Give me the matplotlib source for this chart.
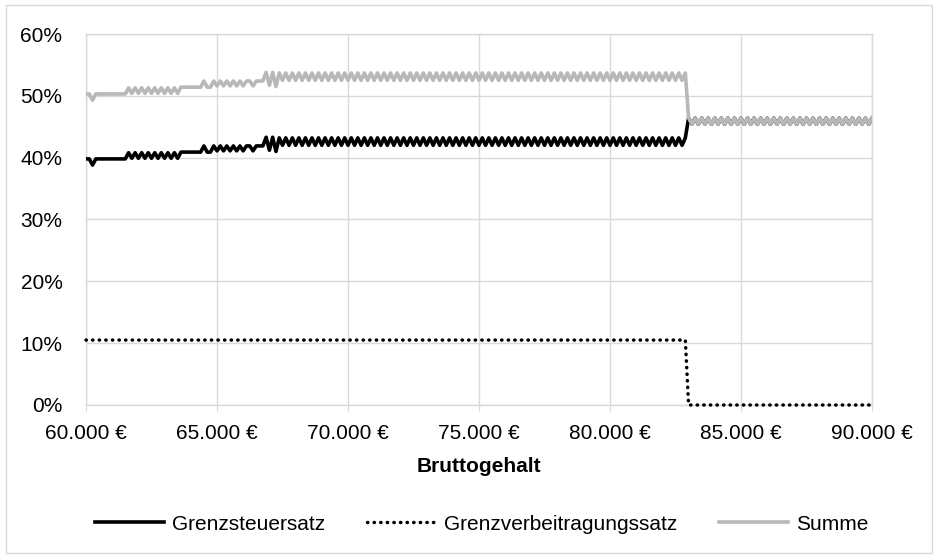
import numpy as np
import matplotlib
matplotlib.use("Agg")
import matplotlib.pyplot as plt
from matplotlib.ticker import FuncFormatter, MultipleLocator
from matplotlib.patches import Rectangle

plt.rcParams['font.family'] = ['Liberation Sans', 'DejaVu Sans']

# Bruttogehalt grid (EUR), step 125
gehalt = np.arange(60000, 90001, 125)

# Grenzsteuersatz (%), 60.000 - 67.250 EUR
steuer_a = [39.8, 39.8, 38.8,
            39.8, 39.8, 39.8, 39.8, 39.8, 39.8, 39.8, 39.8, 39.8, 39.8,
            40.8, 39.9, 40.8, 39.9, 40.8, 39.9, 40.8, 39.9,
            40.8, 39.9, 40.8, 39.9, 40.8, 39.9, 40.8, 39.9,
            40.9, 40.9, 40.9, 40.9, 40.9, 40.9, 40.9, 41.9, 40.9, 40.9,
            41.9, 41.1, 41.9, 41.1, 41.9, 41.1, 41.9, 41.1, 41.9, 41.1,
            41.9, 41.9, 41.1, 41.9, 41.9, 41.9,
            43.3, 41.2, 43.3, 41.0]
# Grenzsteuersatz (%), 67.375 - 82.875 EUR
steuer_b = [43.2, 42.0, 43.2, 42.0, 43.2, 42.0, 43.2, 42.0, 43.2, 42.0,
            43.2, 42.0, 43.2, 42.0, 43.2, 42.0, 43.2, 42.0, 43.2, 42.0,
            43.2, 42.0, 43.2, 42.0, 43.2, 42.0, 43.2, 42.0, 43.2, 42.0,
            43.2, 42.0, 43.2, 42.0, 43.2, 42.0, 43.2, 42.0, 43.2, 42.0,
            43.2, 42.0, 43.2, 42.0, 43.2, 42.0, 43.2, 42.0, 43.2, 42.0,
            43.2, 42.0, 43.2, 42.0, 43.2, 42.0, 43.2, 42.0, 43.2, 42.0,
            43.2, 42.0, 43.2, 42.0, 43.2, 42.0, 43.2, 42.0, 43.2, 42.0,
            43.2, 42.0, 43.2, 42.0, 43.2, 42.0, 43.2, 42.0, 43.2, 42.0,
            43.2, 42.0, 43.2, 42.0, 43.2, 42.0, 43.2, 42.0, 43.2, 42.0,
            43.2, 42.0, 43.2, 42.0, 43.2, 42.0, 43.2, 42.0, 43.2, 42.0,
            43.2, 42.0, 43.2, 42.0, 43.2, 42.0, 43.2, 42.0, 43.2, 42.0,
            43.2, 42.0, 43.2, 42.0, 43.2, 42.0, 43.2, 42.0, 43.2, 42.0,
            43.2, 42.0, 43.2, 42.0, 43.2]
# Grenzsteuersatz (%), 83.000 - 90.000 EUR
steuer_c = [46.4, 45.4, 46.4, 45.4, 46.4, 45.4, 46.4, 45.4, 46.4, 45.4,
            46.4, 45.4, 46.4, 45.4, 46.4, 45.4, 46.4, 45.4, 46.4, 45.4,
            46.4, 45.4, 46.4, 45.4, 46.4, 45.4, 46.4, 45.4, 46.4, 45.4,
            46.4, 45.4, 46.4, 45.4, 46.4, 45.4, 46.4, 45.4, 46.4, 45.4,
            46.4, 45.4, 46.4, 45.4, 46.4, 45.4, 46.4, 45.4, 46.4, 45.4,
            46.4, 45.4, 46.4, 45.4, 46.4, 45.4, 46.4]

# Grenzverbeitragungssatz (%)
beitrag = [10.5, 10.5, 10.5, 10.5, 10.5, 10.5, 10.5, 10.5, 10.5, 10.5,
           10.5, 10.5, 10.5, 10.5, 10.5, 10.5, 10.5, 10.5, 10.5, 10.5,
           10.5, 10.5, 10.5, 10.5, 10.5, 10.5, 10.5, 10.5, 10.5, 10.5,
           10.5, 10.5, 10.5, 10.5, 10.5, 10.5, 10.5, 10.5, 10.5, 10.5,
           10.5, 10.5, 10.5, 10.5, 10.5, 10.5, 10.5, 10.5, 10.5, 10.5,
           10.5, 10.5, 10.5, 10.5, 10.5, 10.5, 10.5, 10.5, 10.5, 10.5,
           10.5, 10.5, 10.5, 10.5, 10.5, 10.5, 10.5, 10.5, 10.5, 10.5,
           10.5, 10.5, 10.5, 10.5, 10.5, 10.5, 10.5, 10.5, 10.5, 10.5,
           10.5, 10.5, 10.5, 10.5, 10.5, 10.5, 10.5, 10.5, 10.5, 10.5,
           10.5, 10.5, 10.5, 10.5, 10.5, 10.5, 10.5, 10.5, 10.5, 10.5,
           10.5, 10.5, 10.5, 10.5, 10.5, 10.5, 10.5, 10.5, 10.5, 10.5,
           10.5, 10.5, 10.5, 10.5, 10.5, 10.5, 10.5, 10.5, 10.5, 10.5,
           10.5, 10.5, 10.5, 10.5, 10.5, 10.5, 10.5, 10.5, 10.5, 10.5,
           10.5, 10.5, 10.5, 10.5, 10.5, 10.5, 10.5, 10.5, 10.5, 10.5,
           10.5, 10.5, 10.5, 10.5, 10.5, 10.5, 10.5, 10.5, 10.5, 10.5,
           10.5, 10.5, 10.5, 10.5, 10.5, 10.5, 10.5, 10.5, 10.5, 10.5,
           10.5, 10.5, 10.5, 10.5, 10.5, 10.5, 10.5, 10.5, 10.5, 10.5,
           10.5, 10.5, 10.5, 10.5, 10.5, 10.5, 10.5, 10.5, 10.5, 10.5,
           10.5, 10.5, 10.5, 10.5,
           0.0, 0.0, 0.0, 0.0, 0.0, 0.0, 0.0, 0.0, 0.0, 0.0,
           0.0, 0.0, 0.0, 0.0, 0.0, 0.0, 0.0, 0.0, 0.0, 0.0,
           0.0, 0.0, 0.0, 0.0, 0.0, 0.0, 0.0, 0.0, 0.0, 0.0,
           0.0, 0.0, 0.0, 0.0, 0.0, 0.0, 0.0, 0.0, 0.0, 0.0,
           0.0, 0.0, 0.0, 0.0, 0.0, 0.0, 0.0, 0.0, 0.0, 0.0,
           0.0, 0.0, 0.0, 0.0, 0.0, 0.0, 0.0]

labels = ["Grenzsteuersatz", "Grenzverbeitragungssatz", "Summe"]
x_title = "Bruttogehalt"

steuer = np.array(steuer_a + steuer_b + steuer_c) / 100.0
beitrag = np.array(beitrag) / 100.0
summe = steuer + beitrag

W, H = 939, 560
FS = 15
fig = plt.figure(figsize=(W / 100, H / 100), dpi=100)
ax = fig.add_axes([86 / W, 1 - 405 / H, (872 - 86) / W, (405 - 34) / H])

grid_c = '#d9d9d9'
ax.plot(gehalt, steuer, color='black', lw=2.6, label=labels[0], zorder=3)
ax.plot(gehalt, beitrag, color='black', lw=2.5, linestyle=(0, (0.1, 1.8)),
        dash_capstyle='round', label=labels[1], zorder=3, clip_on=False)
ax.plot(gehalt, summe, color='#b8b8b8', lw=2.6, label=labels[2], zorder=4)

ax.set_xlim(60000, 90000)
ax.set_ylim(0, 0.6)
ax.xaxis.set_major_locator(MultipleLocator(5000))
ax.yaxis.set_major_locator(MultipleLocator(0.1))
ax.xaxis.set_major_formatter(FuncFormatter(lambda v, p: f"{int(round(v)):,} €".replace(",", ".")))
ax.yaxis.set_major_formatter(FuncFormatter(lambda v, p: f"{int(round(v * 100))}%"))
ax.grid(True, color=grid_c, lw=1.0, zorder=0)
for s in ax.spines.values():
    s.set_color(grid_c)
    s.set_linewidth(1.0)
    s.set_zorder(0.5)
ax.tick_params(axis='x', length=4.5, color=grid_c, pad=9, labelsize=FS, labelcolor='black')
ax.tick_params(axis='y', length=0, pad=17, labelsize=FS)
ax.set_xlabel(x_title, fontsize=FS, fontweight='bold', labelpad=10.5)

leg = fig.legend(loc='center', bbox_to_anchor=(482 / W, 1 - 524 / H), ncol=3,
                 frameon=False, fontsize=FS, handlelength=3.3, handletextpad=0.4,
                 columnspacing=2.0)

fig.patches.append(Rectangle((6 / W, 1 - 553 / H), (932 - 6) / W, (553 - 5) / H,
                             transform=fig.transFigure, fill=False,
                             edgecolor=grid_c, lw=1.0))

fig.savefig("out.png", dpi=100)
